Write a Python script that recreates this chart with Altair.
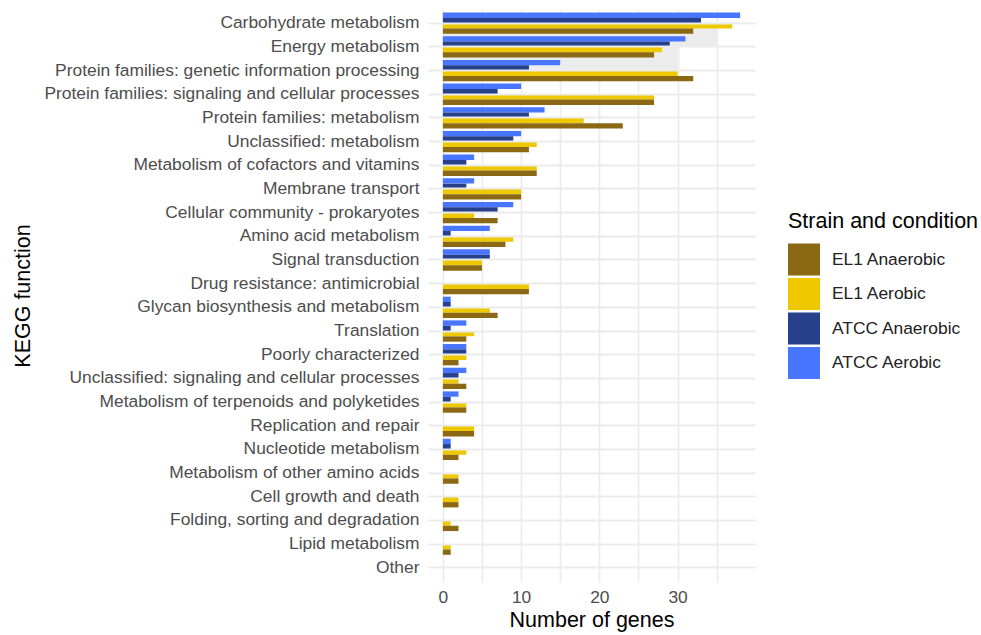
import altair as alt
import pandas as pd

categories = [
    "Carbohydrate metabolism", "Energy metabolism",
    "Protein families: genetic information processing",
    "Protein families: signaling and cellular processes",
    "Protein families: metabolism", "Unclassified: metabolism",
    "Metabolism of cofactors and vitamins", "Membrane transport",
    "Cellular community - prokaryotes", "Amino acid metabolism",
    "Signal transduction", "Drug resistance: antimicrobial",
    "Glycan biosynthesis and metabolism", "Translation",
    "Poorly characterized", "Unclassified: signaling and cellular processes",
    "Metabolism of terpenoids and polyketides", "Replication and repair",
    "Nucleotide metabolism", "Metabolism of other amino acids",
    "Cell growth and death", "Folding, sorting and degradation",
    "Lipid metabolism", "Other",
]

atcc_aerobic   = [38, 31, 15, 10, 13, 10, 4, 4, 9, 6, 6, 0, 1, 3, 3, 3, 2, 0, 1, 0, 0, 0, 0, 0]
atcc_anaerobic = [33, 29, 11, 7, 11, 9, 3, 3, 7, 1, 6, 0, 1, 1, 3, 2, 1, 0, 1, 0, 0, 0, 0, 0]
el1_aerobic    = [37, 28, 30, 27, 18, 12, 12, 10, 4, 9, 5, 11, 6, 4, 3, 2, 3, 4, 3, 2, 2, 1, 1, 0]
el1_anaerobic  = [32, 27, 32, 27, 23, 11, 12, 10, 7, 8, 5, 11, 7, 3, 2, 3, 3, 4, 2, 2, 2, 2, 1, 0]

series_legend = ["EL1 Anaerobic", "EL1 Aerobic", "ATCC Anaerobic", "ATCC Aerobic"]
series_colors = ["#8B6914", "#EEC900", "#27408B", "#4876FF"]
offset_order = ["ATCC Aerobic", "ATCC Anaerobic", "EL1 Aerobic", "EL1 Anaerobic"]

# light grey highlight boxes seen behind the top bars
hl_from = ["Carbohydrate metabolism", "Energy metabolism"]
hl_to = ["Energy metabolism", "Protein families: genetic information processing"]
hl_x0 = [0, 0]
hl_x1 = [35, 30]

x_ticks = [0, 5, 10, 15, 20, 25, 30, 35]

rows = []
for name, vals in zip(offset_order, [atcc_aerobic, atcc_anaerobic, el1_aerobic, el1_anaerobic]):
    for c, v in zip(categories, vals):
        rows.append({"category": c, "series": name, "value": v})
df = pd.DataFrame(rows)
hl = pd.DataFrame({"a": hl_from, "b": hl_to, "x0": hl_x0, "x1": hl_x1})

FONT = "Liberation Sans"
W, H = 327, 573
yscale = alt.Scale(domain=categories, paddingInner=0.1, paddingOuter=0.15)
xscale = alt.Scale(domain=[-1.9, 39.9], nice=False, zero=False)

yaxis = alt.Axis(bandPosition=0.5, labelColor="#4d4d4d", labelFontSize=17.4,
                 labelPadding=9, labelLimit=600, titleFontSize=21.5,
                 titleColor="#000000", titleFontWeight="normal",
                 titleX=-394, titleY=H / 2, titleAngle=270, titleAlign="center",
                 titleBaseline="bottom",
                 ticks=False, domain=False, grid=True, gridColor="#ebebeb",
                 gridWidth=1.8)
xaxis = alt.Axis(values=x_ticks,
                 labelExpr="datum.value % 10 == 0 ? datum.label : ''",
                 labelColor="#4d4d4d", labelFontSize=17.4, labelPadding=6,
                 titleFontSize=21.5, titleColor="#000000",
                 titleFontWeight="normal", titlePadding=4,
                 ticks=False, domain=False, grid=True, gridColor="#ebebeb",
                 gridWidth=1.6)

rects = alt.Chart(hl).mark_rect(color="#ececec").encode(
    y=alt.Y("a:N", scale=yscale, bandPosition=0.5, axis=yaxis, title="KEGG function"),
    y2=alt.Y2("b:N", bandPosition=0.5),
    x=alt.X("x0:Q", scale=xscale, axis=xaxis, title="Number of genes"),
    x2="x1:Q",
)

bars = alt.Chart(df).mark_bar().encode(
    y=alt.Y("category:N", scale=yscale, sort=categories, title="KEGG function", axis=yaxis),
    yOffset=alt.YOffset("series:N", sort=offset_order,
                        scale=alt.Scale(domain=offset_order, paddingInner=0, paddingOuter=0)),
    x=alt.X("value:Q", scale=xscale, title="Number of genes", axis=xaxis),
    x2=alt.datum(0),
    color=alt.Color("series:N",
                    scale=alt.Scale(domain=series_legend, range=series_colors),
                    sort=series_legend,
                    legend=alt.Legend(title="Strain and condition", orient="none",
                                      legendX=360, legendY=202, symbolType="square",
                                      symbolSize=1024, symbolStrokeWidth=0,
                                      symbolOpacity=1, rowPadding=2.5, labelOffset=12,
                                      labelFontSize=17.4, labelColor="#222222",
                                      titleFontSize=21.5, titleFontWeight="normal",
                                      titleColor="#000000", titlePadding=11, padding=0,
                                      labelLimit=400, titleLimit=400)),
)

chart = alt.layer(rects, bars).properties(
    width=W, height=H,
    autosize=alt.AutoSizeParams(type="none"),
    padding={"left": 428, "top": 9, "right": 226, "bottom": 53},
).configure(font=FONT).configure_view(stroke=None).configure_axis(
    labelFont=FONT, titleFont=FONT, labelLimit=600
).configure_legend(labelFont=FONT, titleFont=FONT)

chart.save("out.html", embed_options={"renderer": "svg", "actions": False})
